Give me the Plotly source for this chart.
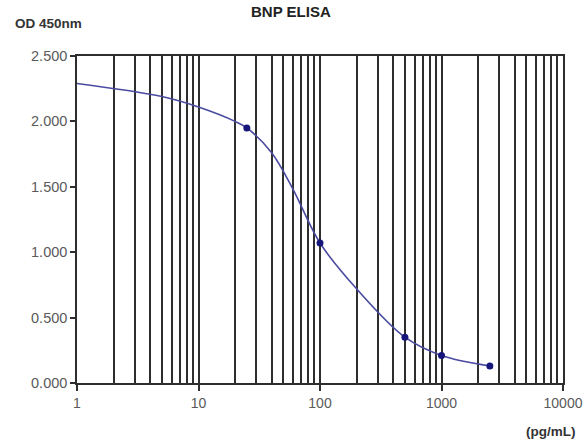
import plotly.graph_objects as go

# Standard curve as drawn (smoothed line)
curve_conc = [1, 5, 10, 20, 25, 40, 60, 100, 200, 500, 1000, 2500]
curve_od = [2.29, 2.19, 2.11, 2.00, 1.95, 1.76, 1.48, 1.07, 0.72, 0.35, 0.21, 0.13]

# Measured standards (markers)
std_conc = [25, 100, 500, 1000, 2500]
std_od = [1.95, 1.07, 0.35, 0.21, 0.13]

x_major = [1, 10, 100, 1000, 10000]
x_major_text = ["1", "10", "100", "1000", "10000"]
x_minor = [m * d for d in [1, 10, 100, 1000] for m in range(2, 10)]
y_ticks = [0, 0.5, 1.0, 1.5, 2.0, 2.5]
y_ticktext = ["0.000", "0.500", "1.000", "1.500", "2.000", "2.500"]

grid_col = "#2e2e2e"
font_fam = "Liberation Sans, Arial, sans-serif"

fig = go.Figure()
fig.add_trace(go.Scatter(
    x=curve_conc, y=curve_od, mode="lines",
    line=dict(color="#4a4aa0", width=1.6, shape="spline", smoothing=1.0),
    hoverinfo="skip", showlegend=False))
fig.add_trace(go.Scatter(
    x=std_conc, y=std_od, mode="markers",
    marker=dict(color="#16167a", size=7, symbol="circle"),
    showlegend=False))

fig.update_layout(
    width=585, height=440,
    margin=dict(l=77, r=22, t=56, b=57, autoexpand=False),
    paper_bgcolor="white", plot_bgcolor="white",
    font=dict(family=font_fam, color="#555555"),
    xaxis=dict(
        type="log", range=[0, 4], automargin=False,
        tickmode="array", tickvals=x_major, ticktext=x_major_text,
        ticks="outside", ticklen=6, tickcolor=grid_col, tickwidth=1.5,
        showgrid=True, gridcolor=grid_col, gridwidth=1.5,
        showline=True, linecolor=grid_col, linewidth=1.5, mirror=True,
        tickfont=dict(size=14, color="#5a5a5a"),
        minor=dict(tickmode="array", tickvals=x_minor, showgrid=True,
                   gridcolor=grid_col, gridwidth=1.5, ticks=""),
        zeroline=False,
    ),
    yaxis=dict(
        range=[0, 2.5], automargin=False,
        tickmode="array", tickvals=y_ticks, ticktext=y_ticktext,
        ticks="outside", ticklen=5, tickcolor=grid_col, tickwidth=1.5,
        showgrid=False, showline=True, linecolor=grid_col, linewidth=1.5,
        mirror=True, zeroline=False,
        tickfont=dict(size=14.5, color="#5a5a5a"),
    ),
    annotations=[
        dict(text="<b>OD 450nm</b>", xref="paper", yref="paper",
             x=-0.132, y=1.098, xanchor="left", yanchor="middle",
             showarrow=False, font=dict(size=13.5, color="#333333", family=font_fam)),
        dict(text="<b>(pg/mL)</b>", xref="paper", yref="paper",
             x=1.03, y=-0.147, xanchor="right", yanchor="middle",
             showarrow=False, font=dict(size=13.5, color="#333333", family=font_fam)),
        dict(text="<b>BNP ELISA</b>", xref="paper", yref="paper",
             x=0.441, y=1.1376, xanchor="center", yanchor="middle",
             showarrow=False, font=dict(size=15, color="#222222", family=font_fam)),
    ],
)

fig.write_html(
    "out.html",
    config={"displayModeBar": False},
    post_script="document.body.style.margin='0';document.body.style.overflow='hidden';",
)
